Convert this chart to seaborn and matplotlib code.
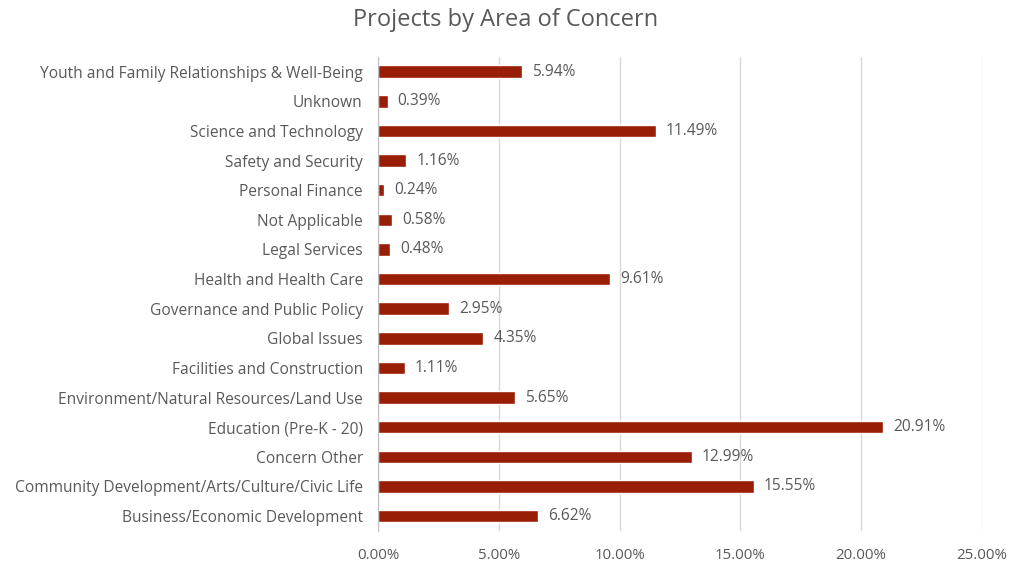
import seaborn as sns
import matplotlib.pyplot as plt
import pandas as pd
from matplotlib.ticker import FuncFormatter

categories = [
    "Youth and Family Relationships & Well-Being",
    "Unknown",
    "Science and Technology",
    "Safety and Security",
    "Personal Finance",
    "Not Applicable",
    "Legal Services",
    "Health and Health Care",
    "Governance and Public Policy",
    "Global Issues",
    "Facilities and Construction",
    "Environment/Natural Resources/Land Use",
    "Education (Pre-K - 20)",
    "Concern Other",
    "Community Development/Arts/Culture/Civic Life",
    "Business/Economic Development",
]
shares = [5.94, 0.39, 11.49, 1.16, 0.24, 0.58, 0.48, 9.61, 2.95, 4.35,
          1.11, 5.65, 20.91, 12.99, 15.55, 6.62]
x_ticks = [0, 5, 10, 15, 20, 25]

df = pd.DataFrame({"area": categories, "share": shares})

sns.set_style("white")
plt.rcParams['font.family'] = ['Open Sans', 'DejaVu Sans']
text_color = "#595959"

fig = plt.figure(figsize=(10.11, 5.63), dpi=100)
ax = fig.add_axes([0.374, 0.057, 0.597, 0.842])

sns.barplot(data=df, x="share", y="area", color="#981E05", width=0.42,
            saturation=1, ax=ax)

for i, v in enumerate(shares):
    ax.text(v + 0.42, i, f"{v:.2f}%", va="center", ha="left",
            fontsize=11.2, color=text_color)

ax.set_xlim(0, 25)
ax.set_xticks(x_ticks)
ax.xaxis.set_major_formatter(FuncFormatter(lambda x, p: f"{x:.2f}%"))
ax.grid(axis="x", color="#D9D9D9", linewidth=1)
ax.set_axisbelow(True)
for s in ["top", "right", "bottom"]:
    ax.spines[s].set_visible(False)
ax.spines["left"].set_color("#BFBFBF")
ax.tick_params(axis="both", length=0, colors=text_color)
ax.tick_params(axis="x", pad=12, labelsize=10.8)
ax.tick_params(axis="y", pad=11, labelsize=11.2)
ax.set_xlabel("")
ax.set_ylabel("")
fig.suptitle("Projects by Area of Concern", y=0.985, fontsize=17, color=text_color)

fig.savefig("out.png", dpi=100)
